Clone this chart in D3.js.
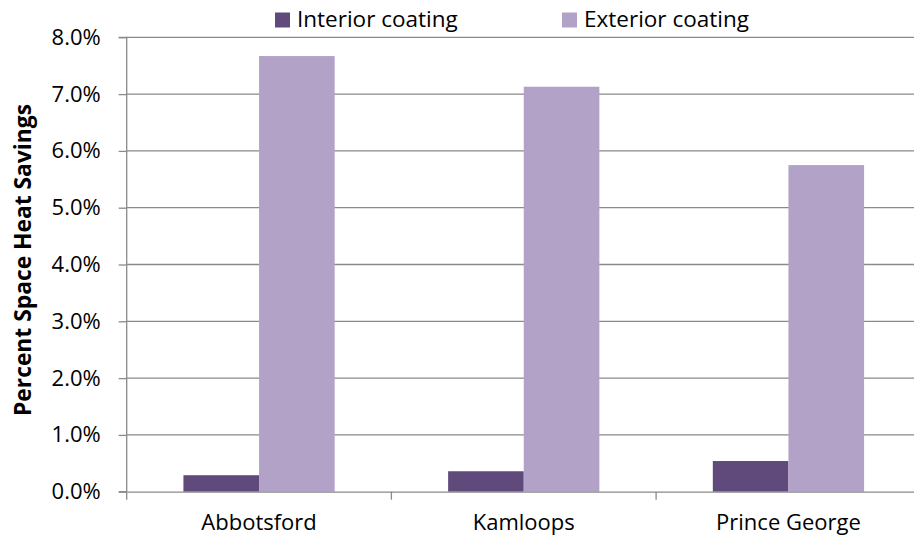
<!DOCTYPE html>
<html>
<head>
<meta charset="utf-8">
<script src="https://cdn.jsdelivr.net/npm/d3@7"></script>
<style>
  html, body { margin: 0; padding: 0; background: #fff; }
  svg { display: block; }
  text { font-family: "Open Sans", sans-serif; fill: #000; }
</style>
</head>
<body>
<script>
const categories = ["Abbotsford", "Kamloops", "Prince George"];
const seriesNames = ["Interior coating", "Exterior coating"];
const interiorValues = [0.0029, 0.0036, 0.0054];
const exteriorValues = [0.0767, 0.0713, 0.0575];
const yTicks = [0, 0.01, 0.02, 0.03, 0.04, 0.05, 0.06, 0.07, 0.08];
const colors = ["#604A7B", "#B3A2C7"];

const W = 914, H = 542;
const m = { left: 126.7, top: 37.3, bottom: 491.7, right: 920.8 };

const svg = d3.select("body").append("svg").attr("width", W).attr("height", H);

const x0 = d3.scaleBand().domain(categories).range([m.left, m.right]).paddingInner(0).paddingOuter(0);
const x1 = d3.scaleBand().domain(seriesNames).range([0, x0.bandwidth()]).paddingInner(0).paddingOuter(0.75);
const y = d3.scaleLinear().domain([0, 0.08]).range([m.bottom, m.top]);

// gridlines
svg.append("g").selectAll("line").data(yTicks.slice(1)).join("line")
  .attr("x1", m.left).attr("x2", m.right)
  .attr("y1", d => y(d)).attr("y2", d => y(d))
  .attr("stroke", "#8a8a8a").attr("stroke-width", 1.3);

// bars
const data = categories.map((c, i) => ({ c, vals: [interiorValues[i], exteriorValues[i]] }));
const groups = svg.append("g").selectAll("g").data(data).join("g")
  .attr("transform", d => `translate(${x0(d.c)},0)`);
groups.selectAll("rect").data(d => d.vals.map((v, j) => ({ s: seriesNames[j], v, j }))).join("rect")
  .attr("x", d => x1(d.s))
  .attr("width", x1.bandwidth())
  .attr("y", d => y(d.v))
  .attr("height", d => y(0) - y(d.v))
  .attr("fill", d => colors[d.j]);

// y axis
const yAxis = d3.axisLeft(y).tickValues(yTicks).tickFormat(d3.format(".1%")).tickSize(8).tickPadding(18);
const gy = svg.append("g").attr("transform", `translate(${m.left},0)`).call(yAxis);
gy.select(".domain").attr("stroke", "#8a8a8a").attr("stroke-width", 1.3).attr("d", `M-8,${m.top}H0V${m.bottom}H-8`);
gy.selectAll(".tick line").attr("stroke", "#8a8a8a").attr("stroke-width", 1.3);
gy.selectAll(".tick text").style("font-family", "'Open Sans', sans-serif").style("font-size", "22px").attr("fill", "#000");

// x axis
const xAxis = d3.axisBottom(x0).tickSize(0).tickPadding(23);
const gx = svg.append("g").attr("transform", `translate(0,${m.bottom})`).call(xAxis);
gx.select(".domain").attr("stroke", "#8a8a8a").attr("stroke-width", 1.3);
gx.selectAll(".tick text").style("font-family", "'Open Sans', sans-serif").style("font-size", "22px").attr("fill", "#000");
// category separator ticks
const sepTicks = categories.map(c => x0(c));
svg.append("g").selectAll("line").data(sepTicks).join("line")
  .attr("x1", d => d).attr("x2", d => d)
  .attr("y1", m.bottom).attr("y2", m.bottom + 8)
  .attr("stroke", "#8a8a8a").attr("stroke-width", 1.3);

// y label
svg.append("text")
  .attr("transform", `translate(31,260) rotate(-90)`)
  .attr("text-anchor", "middle")
  .style("font-weight", "bold").style("font-size", "22.8px")
  .text("Percent Space Heat Savings");

// legend
const legendX = [275, 562];
const lg = svg.append("g").selectAll("g").data(seriesNames).join("g")
  .attr("transform", (d, i) => `translate(${legendX[i]},0)`);
lg.append("rect").attr("x", 0).attr("y", 12.5).attr("width", 15).attr("height", 15)
  .attr("fill", (d, i) => colors[i]);
lg.append("text").attr("x", 22).attr("y", 27).style("font-size", "22.5px").text(d => d);
</script>
</body>
</html>
